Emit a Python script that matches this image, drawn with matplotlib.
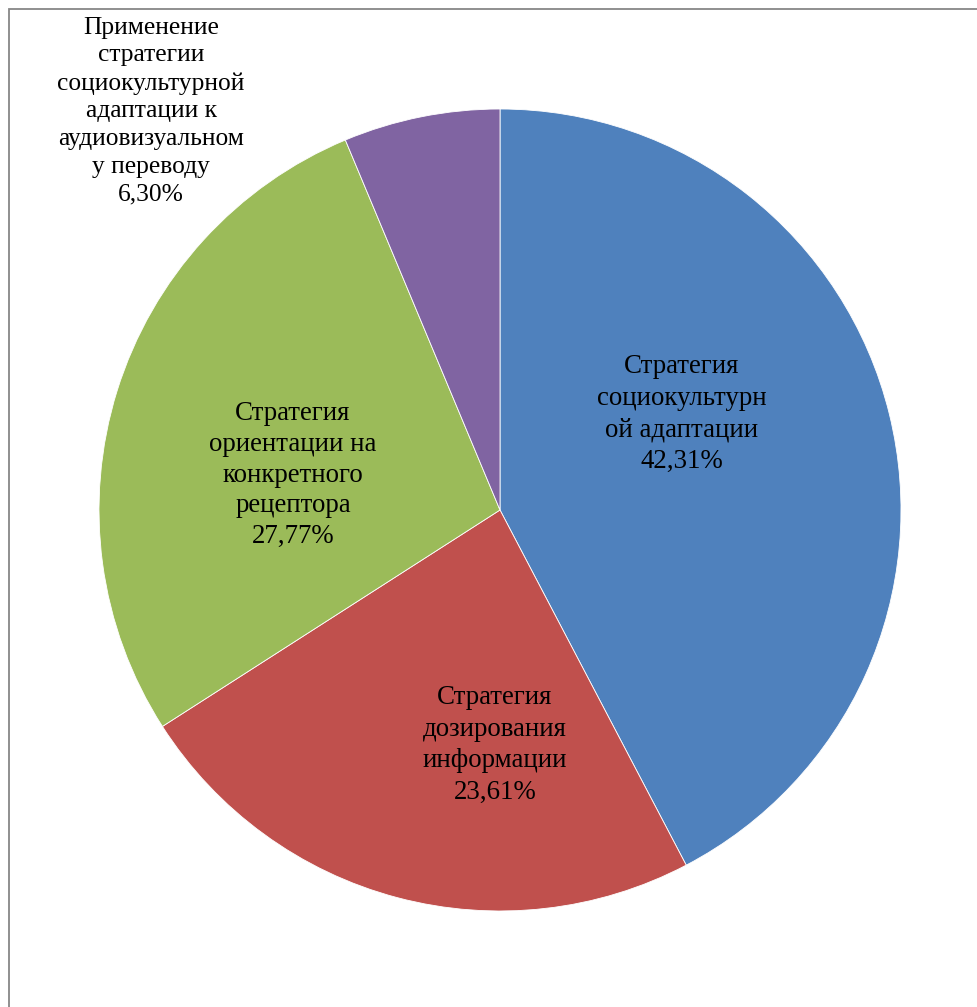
import matplotlib.pyplot as plt
from matplotlib.patches import Rectangle

# Доли стратегий перевода (по часовой стрелке от 12 часов)
names = [
    "Стратегия\nсоциокультурн\nой адаптации",
    "Стратегия\nдозирования\nинформации",
    "Стратегия\nориентации на\nконкретного\nрецептора",
    "Применение\nстратегии\nсоциокультурной\nадаптации к\nаудиовизуальном\nу переводу",
]
shares = [42.31, 23.61, 27.77, 6.30]
colors = ["#4F81BD", "#C0504D", "#9BBB59", "#8064A2"]

# положение подписей (в пикселях холста, y сверху вниз)
label_xy = [(682, 414), (495, 745), (293, 475), (151, 111)]
label_size = [19.4, 19.4, 19.4, 18.4]
label_spacing = [1.34, 1.36, 1.3, 1.33]

W, H = 977, 1007
fig = plt.figure(figsize=(W / 100, H / 100), dpi=100)
ax = fig.add_axes([0, 0, 1, 1])

ax.pie(shares, colors=colors, startangle=90, counterclock=False,
       center=(500, H - 510), radius=401,
       wedgeprops=dict(edgecolor="white", linewidth=0.6))
ax.set_xlim(0, W)
ax.set_ylim(0, H)
ax.set_aspect("equal")
ax.axis("off")

for name, val, (x, y), fs, ls in zip(names, shares, label_xy, label_size, label_spacing):
    txt = name + "\n" + f"{val:.2f}%".replace(".", ",")
    ax.text(x, H - y, txt, ha="center", va="center", fontsize=fs,
            family="Liberation Serif", linespacing=ls, color="black")

# рамка области диаграммы
fig.patches.append(Rectangle((8.5 / W, -0.1), 1.2, (H - 8.5) / H + 0.1,
                             transform=fig.transFigure, fill=False,
                             edgecolor="#878787", linewidth=1.3))

fig.savefig("out.png", dpi=100)
